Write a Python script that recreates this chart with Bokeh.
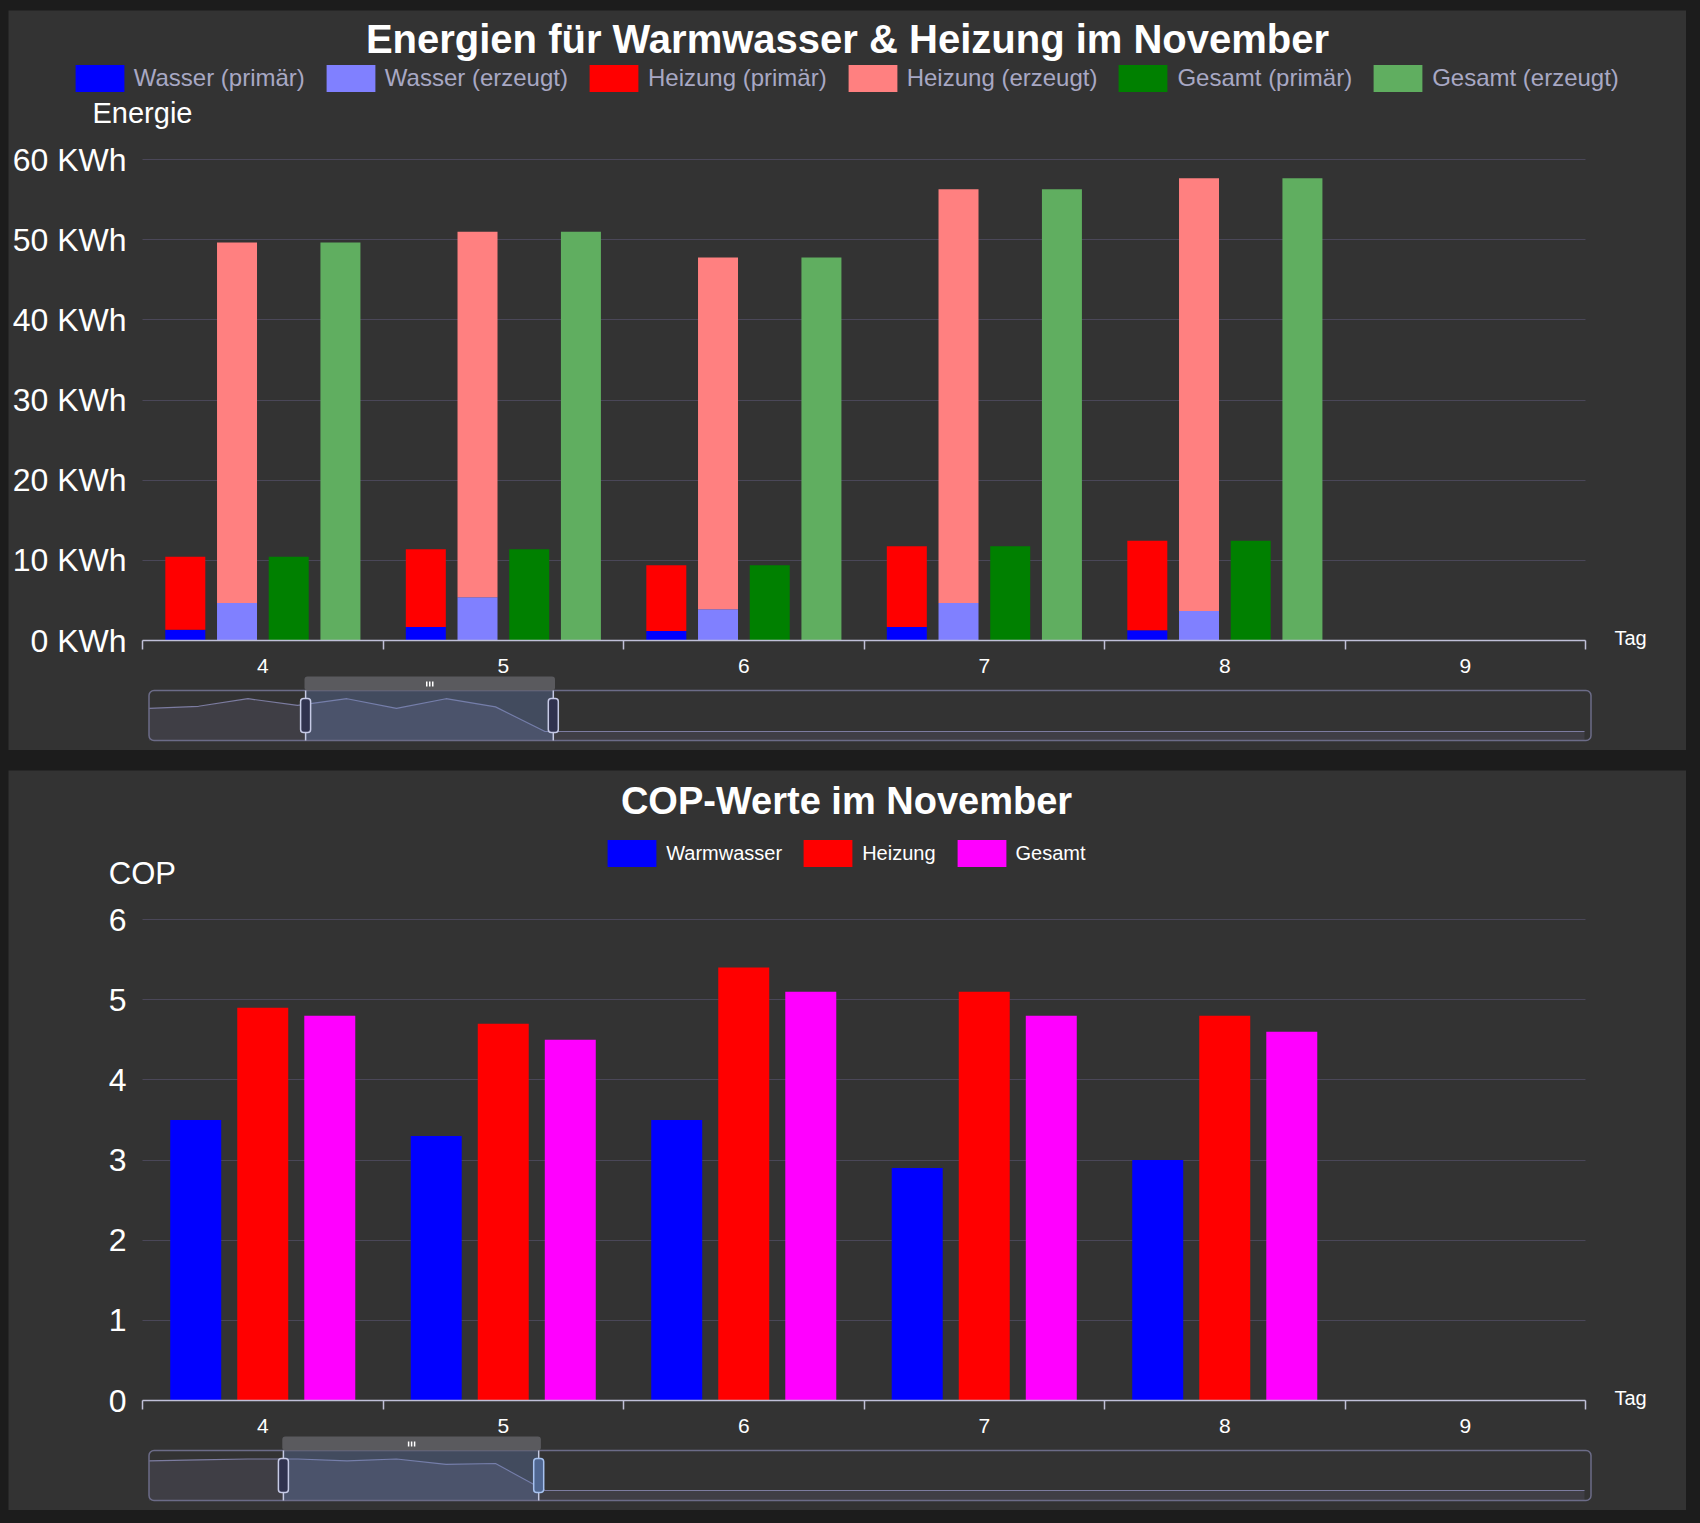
from bokeh.plotting import figure
from bokeh.layouts import column, row
from bokeh.models import (ColumnDataSource, Range1d, FixedTicker, PrintfTickFormatter,
                          Legend, LegendItem, Label, Spacer, Quad, Grid)
from bokeh.transform import dodge
from bokeh.embed import file_html
from bokeh.resources import INLINE

# ---------------- data ----------------
days = [4, 5, 6, 7, 8]
axis_days = [4, 5, 6, 7, 8, 9]

wasser_primaer = [1.35, 1.69, 1.19, 1.69, 1.27]
heizung_primaer = [9.11, 9.70, 8.20, 10.06, 11.16]
wasser_erzeugt = [4.68, 5.39, 3.90, 4.68, 3.68]
heizung_erzeugt = [44.98, 45.61, 43.87, 51.62, 53.97]
gesamt_primaer = [10.46, 11.39, 9.39, 11.75, 12.43]
gesamt_erzeugt = [49.66, 51.00, 47.77, 56.30, 57.65]

cop_warmwasser = [3.5, 3.3, 3.5, 2.9, 3.0]
cop_heizung = [4.9, 4.7, 5.4, 5.1, 4.8]
cop_gesamt = [4.8, 4.5, 5.1, 4.8, 4.6]

energy_ticks = [0, 10, 20, 30, 40, 50, 60]
cop_ticks = [0, 1, 2, 3, 4, 5, 6]

nav_days = [1, 2, 3, 4, 5, 6, 7, 8, 9, 10, 11, 12, 13, 14, 15,
            16, 17, 18, 19, 20, 21, 22, 23, 24, 25, 26, 27, 28, 29, 30]
nav_energie = [1.19, 1.30, 1.69, 1.35, 1.69, 1.19, 1.69, 1.27, 0, 0, 0, 0, 0, 0, 0,
               0, 0, 0, 0, 0, 0, 0, 0, 0, 0, 0, 0, 0, 0, 0]
nav_cop = [3.3, 3.4, 3.5, 3.5, 3.3, 3.5, 2.9, 3.0, 0, 0, 0, 0, 0, 0, 0,
           0, 0, 0, 0, 0, 0, 0, 0, 0, 0, 0, 0, 0, 0, 0]

# ---------------- style / layout ----------------
FONT = "Liberation Sans"
BG = "#333333"
GRID = "#4a4758"
AXIS = "#c0c0d8"
W = 1678            # panel width  (page x 8 .. 1686)
PH = 740            # panel height
PX0, PX1 = 8, 1686  # page x of panel edges
FRAME_L, FRAME_R = 142.0, 1585.0   # page x of plot area
F_TOP, F_BOT = 149.0, 630.0         # panel y of plot area
CAT = (FRAME_R - FRAME_L) / 6.0
HAS_RADIUS = "border_radius" in Quad.properties()
HAS_CROSS = "cross_bounds" in Grid.properties()


def rad(r):
    return {"border_radius": r} if HAS_RADIUS else {}


def make_panel(ymax, ticks, fmt, nav_zero, nav_ppu):
    ppu = (F_BOT - F_TOP) / ymax
    p = figure(width=W, height=PH,
               x_range=Range1d(3.5 - (FRAME_L - PX0) / CAT, 9.5 + (PX1 - FRAME_R) / CAT),
               y_range=Range1d(-(PH - F_BOT) / ppu, ymax + F_TOP / ppu),
               toolbar_location=None, output_backend="svg",
               min_border=0, min_border_left=0, min_border_right=0,
               min_border_top=0, min_border_bottom=0,
               background_fill_color=BG, border_fill_color=BG, outline_line_color=None)
    p.extra_x_ranges = {"px": Range1d(PX0, PX1),
                        "nav": Range1d(1 + (PX0 - 148.5) / 49.5, 1 + (PX1 - 148.5) / 49.5)}
    p.extra_y_ranges = {"px": Range1d(PH, 0),
                        "nav": Range1d((nav_zero - PH) / nav_ppu, nav_zero / nav_ppu)}
    # y axis
    ya = p.yaxis[0]
    ya.fixed_location = 3.5
    ya.bounds = (0, ymax)
    ya.ticker = FixedTicker(ticks=ticks)
    if fmt:
        ya.formatter = PrintfTickFormatter(format=fmt)
    ya.axis_line_color = None
    ya.major_tick_line_color = None
    ya.major_tick_out = 0
    ya.major_tick_in = 0
    ya.minor_tick_line_color = None
    ya.minor_tick_out = 0
    ya.major_label_text_font = FONT
    ya.major_label_text_font_size = "32px"
    ya.major_label_text_color = "#ffffff"
    ya.major_label_standoff = 16
    # x axis
    xa = p.xaxis[0]
    xa.fixed_location = 0
    xa.bounds = (3.5, 9.5)
    xa.ticker = FixedTicker(ticks=axis_days,
                            minor_ticks=[d - 0.5 for d in axis_days] + [axis_days[-1] + 0.5])
    xa.axis_line_color = AXIS
    xa.axis_line_width = 1.5
    xa.major_tick_line_color = None
    xa.major_tick_out = 0
    xa.major_tick_in = 0
    xa.minor_tick_line_color = AXIS
    xa.minor_tick_line_width = 1.5
    xa.minor_tick_out = 9
    xa.minor_tick_in = 0
    xa.major_label_text_font = FONT
    xa.major_label_text_font_size = "21px"
    xa.major_label_text_color = "#ffffff"
    xa.major_label_standoff = 9
    # grid
    p.xgrid.visible = False
    if HAS_CROSS:
        p.ygrid.grid_line_color = GRID
        p.ygrid.bounds = (0, ymax)
        p.ygrid.cross_bounds = (3.5, 9.5)
    else:
        p.ygrid.visible = False
        p.segment(x0=3.5, x1=9.5, y0=ticks, y1=ticks, line_color=GRID, line_width=1)
    return p


def add_label(p, text, x, y, size, color="#ffffff", bold=False, align="left"):
    p.add_layout(Label(x=x, y=y, x_range_name="px", y_range_name="px", text=text,
                       text_font=FONT, text_font_size=size, text_color=color,
                       text_font_style="bold" if bold else "normal",
                       text_align=align, text_baseline="alphabetic"))


def make_legend(items, x, y, size, color, spacing):
    # legend glyphs are drawn inset by 10%, so the glyph box is 61x34 for a 49x27 swatch
    return Legend(items=items, orientation="horizontal", location=(x, y),
                  glyph_width=61, glyph_height=34, label_height=34, label_standoff=4,
                  spacing=spacing, padding=0, margin=0, label_text_font=FONT,
                  label_text_font_size=size, label_text_color=color,
                  border_line_alpha=0, background_fill_alpha=0)


def add_navigator(p, values, nav_zero, nav_ppu, sel, tab, handle_fill, handle_line):
    # mini series
    p.varea(x=nav_days, y1=(nav_zero - 730) / nav_ppu, y2=values, fill_color="#3f3e45",
            x_range_name="nav", y_range_name="nav")
    p.line(nav_days, values, line_color="#7c7ca0", line_width=1.2,
           x_range_name="nav", y_range_name="nav")
    # decorations (panel pixel coordinates)
    kw = dict(x_range_name="px", y_range_name="px")
    p.quad(left=sel[0], right=sel[1], top=680, bottom=730,
           fill_color="#6685c2", fill_alpha=0.3, line_color=None, **kw)
    p.quad(left=148.5, right=1590.5, top=680, bottom=730, fill_color=None,
           line_color="#6c6c88", line_width=1.5, **kw, **rad(5))
    p.quad(left=tab[0], right=tab[1], top=666, bottom=680, fill_color="#5a5a5e",
           line_color=None, **kw, **rad(3))
    p.segment(x0=[sel[0], sel[1]], x1=[sel[0], sel[1]], y0=680, y1=730,
              line_color="#c4c8e2", line_width=1.5, **kw)
    cx = (tab[0] + tab[1]) / 2
    p.segment(x0=[cx - 3, cx, cx + 3], x1=[cx - 3, cx, cx + 3], y0=671, y1=676,
              line_color="#ffffff", line_width=1.5, **kw)
    p.quad(left=[sel[0] - 5, sel[1] - 5], right=[sel[0] + 5, sel[1] + 5], top=688, bottom=722,
           fill_color=handle_fill, line_color=handle_line, line_width=1.5, **kw, **rad(3))


# ---------------- chart 1: Energien ----------------
p1 = make_panel(60, energy_ticks, "%d KWh", 721.0, 19.4)
add_navigator(p1, nav_energie, 721.0, 19.4, (305.1, 552.8), (304.0, 554.5),
              ["#30324f", "#30324f"], ["#c6cae6", "#c6cae6"])
src1 = ColumnDataSource(dict(day=days, wp=wasser_primaer, hp=heizung_primaer,
                             we=wasser_erzeugt, he=heizung_erzeugt,
                             gp=gesamt_primaer, ge=gesamt_erzeugt))
BW1 = 0.1663
r_prim = p1.vbar_stack(["wp", "hp"], x=dodge("day", -0.322), width=BW1, source=src1,
                       color=["#0000ff", "#ff0000"], line_color=None)
r_erz = p1.vbar_stack(["we", "he"], x=dodge("day", -0.107), width=BW1, source=src1,
                      color=["#8080ff", "#ff8080"], line_color=None)
r_gp = p1.vbar(x=dodge("day", 0.108), top="gp", bottom=0, width=BW1, source=src1,
               fill_color="#008000", line_color=None)
r_ge = p1.vbar(x=dodge("day", 0.323), top="ge", bottom=0, width=BW1, source=src1,
               fill_color="#60ae60", line_color=None)
p1.add_layout(make_legend([
    LegendItem(label="Wasser (primär)", renderers=[r_prim[0]]),
    LegendItem(label="Wasser (erzeugt)", renderers=[r_erz[0]]),
    LegendItem(label="Heizung (primär)", renderers=[r_prim[1]]),
    LegendItem(label="Heizung (erzeugt)", renderers=[r_erz[1]]),
    LegendItem(label="Gesamt (primär)", renderers=[r_gp]),
    LegendItem(label="Gesamt (erzeugt)", renderers=[r_ge]),
], 74.8 - 6.1 - PX0, PH - 85.1, "24px", "#a8a8c4", 15))
add_label(p1, "Energien für Warmwasser & Heizung im November", 847, 28.9, "40px",
          bold=True, align="center")
add_label(p1, "Energie", 92, 102.5, "29px")
add_label(p1, "Tag", 1614, 627.3, "20px")

# ---------------- chart 2: COP ----------------
p2 = make_panel(6, cop_ticks, None, 720.0, 9.0)
add_navigator(p2, nav_cop, 720.0, 9.0, (282.9, 538.2), (281.8, 540.4),
              ["#30324f", "#4f6690"], ["#c6cae6", "#a6c2f0"])
src2 = ColumnDataSource(dict(day=days, ww=cop_warmwasser, hz=cop_heizung, gs=cop_gesamt))
BW2 = 0.212
r_ww = p2.vbar(x=dodge("day", -0.2787), top="ww", bottom=0, width=BW2, source=src2,
               fill_color="#0000ff", line_color=None)
r_hz = p2.vbar(x=dodge("day", 0.0), top="hz", bottom=0, width=BW2, source=src2,
               fill_color="#ff0000", line_color=None)
r_gs = p2.vbar(x=dodge("day", 0.2787), top="gs", bottom=0, width=BW2, source=src2,
               fill_color="#ff00ff", line_color=None)
p2.add_layout(make_legend([
    LegendItem(label="Warmwasser", renderers=[r_ww]),
    LegendItem(label="Heizung", renderers=[r_hz]),
    LegendItem(label="Gesamt", renderers=[r_gs]),
], 607.3 - 6.1 - PX0, PH - 100.1, "20px", "#ffffff", 15))
add_label(p2, "COP-Werte im November", 846, 30.1, "38px", bold=True, align="center")
add_label(p2, "COP", 108.3, 103.2, "31px")
add_label(p2, "Tag", 1614, 627.3, "20px")

root = row(Spacer(width=8, height=10),
           column(Spacer(width=W, height=10), p1, Spacer(width=W, height=20), p2, spacing=0),
           spacing=0)

html = file_html(root, INLINE, title="Energien und COP")
html = html.replace("</head>", "<style>body{background-color:#1c1c1c;}</style></head>", 1)
open("out.html", "w").write(html)
